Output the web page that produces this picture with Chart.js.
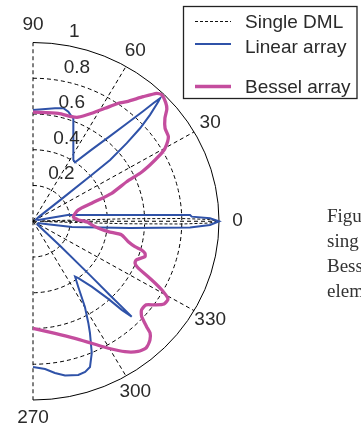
<!DOCTYPE html>
<html><head><meta charset="utf-8">
<script src="https://cdn.jsdelivr.net/npm/chart.js@4/dist/chart.umd.min.js"></script>
<style>
html,body{margin:0;padding:0;background:#fff;overflow:hidden;width:361px;height:428px;}
canvas{display:block;}
</style></head><body>
<canvas id="c" width="361" height="428"></canvas>
<script>
// ---- data (angles in degrees, radius normalised 0..1) ----
const angleTicks = [90, 60, 30, 0, -30, -60, -90];
const angleTickLabels = ['90', '60', '30', '0', '330', '300', '270'];
const radialTicks = [0.2, 0.4, 0.6, 0.8, 1];
const radialTickLabels = ['0.2', '0.4', '0.6', '0.8', '1'];
const seriesNames = ['Single DML', 'Linear array', 'Bessel array'];
const captionLines = ['Figu', 'sing', 'Bess', 'elem'];

const dmlAngle = [2.2, 1.6, 1.1, 0.6, 0, -0.6, -1.1, -1.6, -2.2];
const dmlR     = [0.05, 0.5, 0.8, 0.95, 0.99, 0.95, 0.8, 0.5, 0.05];

const linearAngle = [90, 79.4, 75.5, 72.8, 70.4, 69.4, 64.5, 57.7, 55.6, 51.8, 49.0, 47.3, 46.1, 45.6, 45.2, 44.8, 43.4, 42.1, 40.9, 39.6, 39.4, 39.0, 38.0, 30, 15, 11.4, 10.6, 5.6, 3.85, 2.93, 2.4, 1.73, 1.0, 0, -1.25, -2.35, -3.1, -4.1, -5.5, -8.7, -12, -20, -38, -43.4, -44.6, -45.0, -45.1, -45.2, -46.1, -47.0, -49.2, -52.6, -53.9, -56.5, -59.8, -62.4, -63.9, -66.8, -69.4, -71.6, -74.2, -78.7, -82.1, -85.5, -90];
const linearR     = [0.623, 0.643, 0.653, 0.642, 0.621, 0.616, 0.504, 0.406, 0.400, 0.510, 0.631, 0.744, 0.856, 0.924, 0.970, 0.949, 0.866, 0.776, 0.667, 0.538, 0.408, 0.19, 0.04, 0.02, 0.03, 0.093, 0.19, 0.362, 0.523, 0.684, 0.845, 0.854, 0.952, 1.0, 0.952, 0.845, 0.684, 0.523, 0.362, 0.212, 0.08, 0.03, 0.03, 0.2, 0.443, 0.585, 0.70, 0.753, 0.688, 0.594, 0.483, 0.401, 0.384, 0.441, 0.555, 0.642, 0.696, 0.802, 0.871, 0.888, 0.894, 0.880, 0.857, 0.829, 0.815];

const besselAngle = [90, 77.3, 70.4, 67.3, 62.4, 58.5, 55.2, 53.0, 49.6, 47.1, 45.6, 43.0, 41.1, 39.1, 36.2, 33.0, 29.9, 28.5, 26.6, 25.0, 23.7, 20.3, 17.7, 14.6, 6.8, 1.7, -0.4, -3.7, -6.1, -8.2, -9.1, -12.6, -14.5, -15.4, -16.6, -18.2, -21.4, -23.2, -24.8, -27.2, -29.0, -30.9, -33.3, -35.5, -37.6, -40.4, -42.4, -44.0, -44.8, -46.6, -49.4, -52.2, -55.9, -60.3, -65.2, -71.0, -79.3, -90];
const besselR     = [0.61, 0.619, 0.621, 0.631, 0.682, 0.741, 0.804, 0.838, 0.915, 0.977, 0.99, 0.975, 0.955, 0.914, 0.880, 0.868, 0.819, 0.777, 0.703, 0.635, 0.550, 0.451, 0.331, 0.252, 0.218, 0.244, 0.289, 0.317, 0.351, 0.409, 0.483, 0.525, 0.566, 0.606, 0.628, 0.634, 0.595, 0.597, 0.622, 0.718, 0.791, 0.846, 0.843, 0.806, 0.767, 0.766, 0.791, 0.849, 0.887, 0.915, 0.934, 0.922, 0.8815, 0.818, 0.752, 0.6925, 0.638, 0.599];

const colors = { dml: '#111111', linear: '#2f52a8', bessel: '#c44d9e', text: '#2a2a2a' };

function polar(angles, radii) {
  return angles.map((a, i) => ({ x: radii[i] * Math.cos(a * Math.PI / 180), y: radii[i] * Math.sin(a * Math.PI / 180) }));
}

const polarPlugin = {
  id: 'polarPlugin',
  beforeDatasetsDraw(chart) {
    const { ctx, scales: { x, y } } = chart;
    const cx = x.getPixelForValue(0), cy = y.getPixelForValue(0);
    const rx = x.getPixelForValue(1) - cx, ry = cy - y.getPixelForValue(1);
    ctx.save();
    ctx.strokeStyle = '#000';
    ctx.lineWidth = 1;
    ctx.setLineDash([4, 3]);
    radialTicks.forEach(r => {
      if (r < 1) {
        ctx.beginPath();
        ctx.ellipse(cx, cy, rx * r, ry * r, 0, -Math.PI / 2, Math.PI / 2);
        ctx.stroke();
      }
    });
    angleTicks.forEach(a => {
      const t = a * Math.PI / 180;
      ctx.beginPath();
      ctx.moveTo(cx, cy);
      ctx.lineTo(x.getPixelForValue(Math.cos(t)), y.getPixelForValue(Math.sin(t)));
      ctx.stroke();
    });
    ctx.setLineDash([]);
    ctx.beginPath();
    ctx.ellipse(cx, cy, rx, ry, 0, -Math.PI / 2, Math.PI / 2);
    ctx.stroke();
    ctx.restore();
  },
  afterDraw(chart) {
    const { ctx, scales: { x, y } } = chart;
    ctx.save();
    ctx.fillStyle = colors.text;
    ctx.font = '19px "Liberation Sans", Arial, sans-serif';
    // angle labels at r = 1.1
    ctx.textAlign = 'center';
    ctx.textBaseline = 'middle';
    angleTicks.forEach((a, i) => {
      const t = a * Math.PI / 180;
      ctx.fillText(angleTickLabels[i], x.getPixelForValue(1.1 * Math.cos(t)), y.getPixelForValue(1.1 * Math.sin(t)));
    });
    // radial labels along 82 deg
    ctx.textAlign = 'left';
    const t82 = 82 * Math.PI / 180;
    radialTicks.forEach((r, i) => {
      ctx.fillText(radialTickLabels[i], x.getPixelForValue(r * Math.cos(t82)) + 10, y.getPixelForValue(r * Math.sin(t82)) - 12);
    });
    // legend
    ctx.strokeStyle = '#222';
    ctx.lineWidth = 1.3;
    ctx.strokeRect(183.5, 6.5, 173.5, 92);
    const ds = chart.data.datasets;
    const legendRows = [
      { name: seriesNames[0], lineY: 21.5, textY: 27.5, d: ds[2] },
      { name: seriesNames[1], lineY: 44, textY: 52.5, d: ds[1] },
      { name: seriesNames[2], lineY: 86.5, textY: 92.5, d: ds[0] }
    ];
    ctx.textBaseline = 'alphabetic';
    legendRows.forEach(row => {
      ctx.save();
      ctx.strokeStyle = row.d.borderColor;
      ctx.lineWidth = row.d.borderWidth;
      ctx.setLineDash(row.d.borderDash || []);
      ctx.beginPath();
      ctx.moveTo(195, row.lineY);
      ctx.lineTo(231, row.lineY);
      ctx.stroke();
      ctx.restore();
      ctx.fillText(row.name, 245, row.textY);
    });
    // cropped caption text
    ctx.fillStyle = '#333';
    ctx.font = '19px "Liberation Serif", "Times New Roman", serif';
    captionLines.forEach((s, i) => ctx.fillText(s, 327, 222 + i * 25));
    ctx.restore();
  }
};

new Chart(document.getElementById('c'), {
  type: 'scatter',
  data: {
    datasets: [
      { label: seriesNames[2], data: polar(besselAngle, besselR), showLine: true, borderColor: colors.bessel, borderWidth: 3.3, pointRadius: 0, tension: 0.2, order: 0, clip: false },
      { label: seriesNames[1], data: polar(linearAngle, linearR), showLine: true, borderColor: colors.linear, borderWidth: 2, pointRadius: 0, tension: 0, order: 1, clip: false },
      { label: seriesNames[0], data: polar(dmlAngle, dmlR), showLine: true, borderColor: colors.dml, borderWidth: 1, borderDash: [3, 2], pointRadius: 0, tension: 0, order: 2, clip: false }
    ]
  },
  options: {
    responsive: false,
    animation: false,
    devicePixelRatio: 1,
    events: [],
    layout: { padding: { left: 33, right: 142, top: 42.5, bottom: 28 } },
    scales: {
      x: { type: 'linear', min: 0, max: 1, display: false },
      y: { type: 'linear', min: -1, max: 1, display: false }
    },
    plugins: { legend: { display: false }, tooltip: { enabled: false } }
  },
  plugins: [polarPlugin]
});
</script>
</body></html>
